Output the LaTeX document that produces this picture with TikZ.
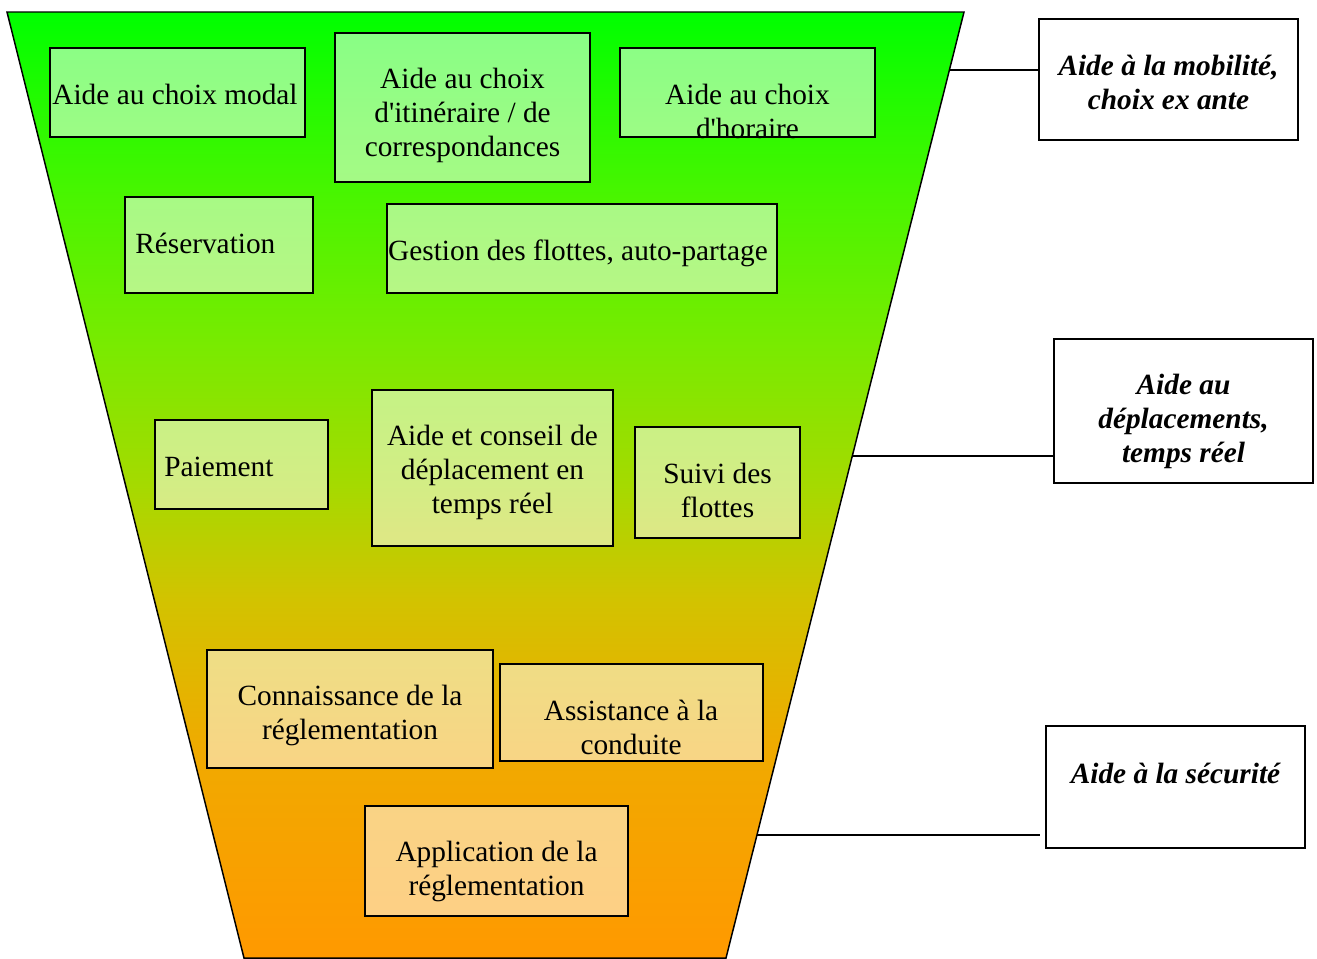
\documentclass[tikz,border=0pt]{standalone}
\usepackage{fontspec}
\newfontfamily\tnr{Liberation Serif}
\usetikzlibrary{calc,fit}
\definecolor{fA}{RGB}{0,255,0}
\definecolor{fB}{RGB}{75,245,0}
\definecolor{fC}{RGB}{120,235,0}
\definecolor{fD}{RGB}{165,218,0}
\definecolor{fE}{RGB}{210,195,0}
\definecolor{fF}{RGB}{240,170,0}
\definecolor{fG}{RGB}{255,153,0}
\pgfdeclareverticalshading{funnelshade}{100bp}{color(0bp)=(fG); color(25bp)=(fG); color(36bp)=(fF); color(44bp)=(fE); color(50bp)=(fD); color(57.5bp)=(fC); color(65bp)=(fB); color(75bp)=(fA); color(100bp)=(fA)}
\begin{document}
\begin{tikzpicture}[x=0.75pt,y=-0.75pt,
  boxst/.style={draw=black,line width=1.4pt,fill=white,fill opacity=0.52,inner sep=0pt},
  labbox/.style={draw=black,line width=1.2pt,fill=white,inner sep=0pt},
  txt/.style={font=\tnr\fontsize{22}{25.5}\selectfont,align=center,anchor=base,inner sep=0pt,yshift=-2.25pt},
  txtl/.style={txt,anchor=base west},
  lab/.style={txt,font=\tnr\fontsize{22}{25.5}\selectfont\bfseries\itshape},
  conn/.style={draw=black,line width=1.1pt}]
\useasboundingbox (0,0) rectangle (1317,958);
% funnel
\coordinate (tl) at (7,12);
\coordinate (tr) at (964,12);
\coordinate (br) at (726,958);
\coordinate (bl) at (244,958);
\path[draw=black,line width=1.1pt,shading=funnelshade] (tl) -- (tr) -- (br) -- (bl) -- cycle;
% boxes
\node[boxst,fit={(50,48) (305,137)}] (b1) {};
\node[boxst,fit={(335,33) (590,182)}] (b2) {};
\node[boxst,fit={(620,48) (875,137)}] (b3) {};
\node[boxst,fit={(125,197) (313,293)}] (b4) {};
\node[boxst,fit={(387,204) (777,293)}] (b5) {};
\node[boxst,fit={(155,420) (328,509)}] (b6) {};
\node[boxst,fit={(372,390) (613,546)}] (b7) {};
\node[boxst,fit={(635,427) (800,538)}] (b8) {};
\node[boxst,fit={(207,650) (493,768)}] (b9) {};
\node[boxst,fit={(500,664) (763,761)}] (b10) {};
\node[boxst,fit={(365,806) (628,916)}] (b11) {};
% texts (base anchor = baseline of last line)
\node[txt] (t1) at (175,101.5) {Aide au choix modal};
\node[txt] (t2) at (462.5,153.5) {Aide au choix\\d'itinéraire / de\\correspondances};
\node[txt] (t3) at (747.5,135.5) {Aide au choix\\d'horaire};
\node[txtl] (t4) at (135,250.5) {Réservation};
\node[txt] (t5) at (578,257.5) {Gestion des flottes, auto-partage};
\node[txtl] (t6) at (164,473.5) {Paiement};
\node[txt] (t7) at (492.5,510.5) {Aide et conseil de\\déplacement en\\temps réel};
\node[txt] (t8) at (717.5,514.5) {Suivi des\\flottes};
\node[txt] (t9) at (350,736.5) {Connaissance de la\\réglementation};
\node[txt] (t10) at (631,751.5) {Assistance à la\\conduite};
\node[txt] (t11) at (496.5,892.5) {Application de la\\réglementation};
% right labels
\node[labbox,fit={(1039,19) (1298,140)}] (la) {};
\node[labbox,fit={(1054,339) (1313,483)}] (lb) {};
\node[labbox,fit={(1046,726) (1305,848)}] (lc) {};
\node[lab] (ta) at (1168.5,106.5) {Aide à la mobilité,\\choix ex ante};
\node[lab] (tb) at (1183.5,459.5) {Aide au\\déplacements,\\temps réel};
\node[lab] (tc) at (1175.5,780.5) {Aide à la sécurité};
% connectors
\coordinate (e1) at ($(tr)!0.0613!(br)$);
\coordinate (e2) at ($(tr)!0.4693!(br)$);
\coordinate (e3) at ($(tr)!0.8700!(br)$);
\coordinate (c3) at (1040,835.5);
\draw[conn] (e1) -- (e1 -| la.west);
\draw[conn] (e2) -- (e2 -| lb.west);
\draw[conn] (e3) -- (e3 -| c3);
\end{tikzpicture}
\end{document}
